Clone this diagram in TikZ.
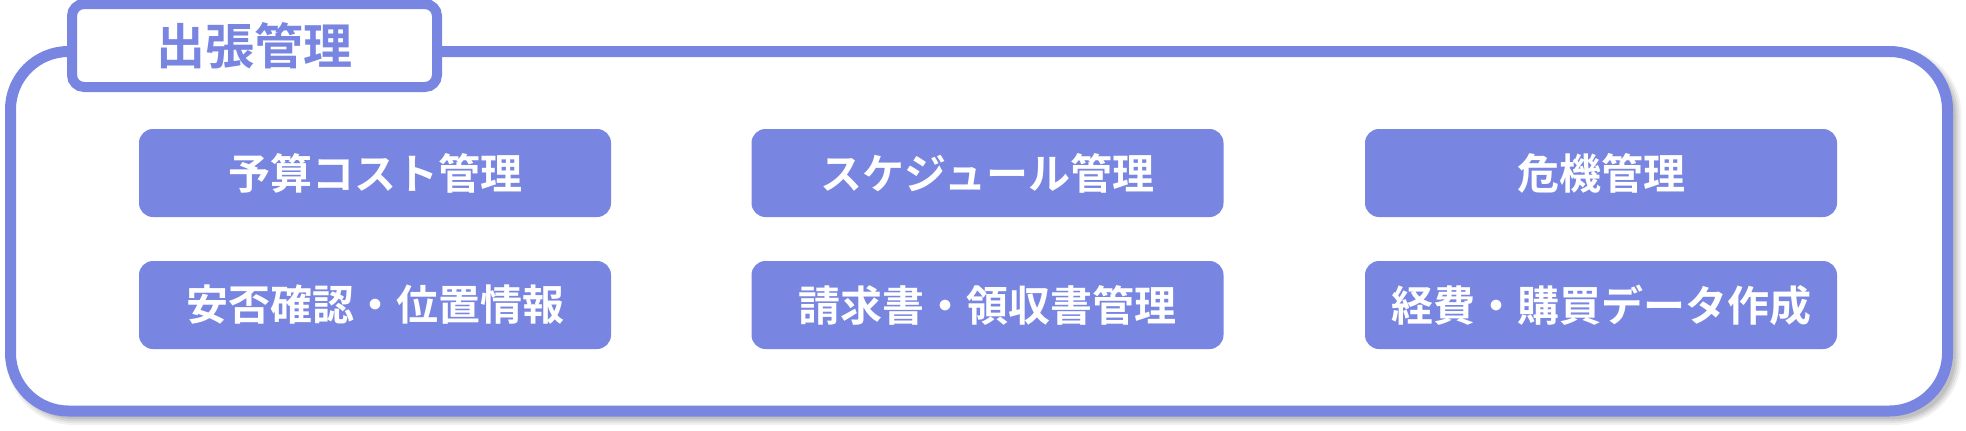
\documentclass[tikz,border=0pt]{standalone}
\usepackage{fontspec}
\newfontfamily\cjk{Noto Sans CJK JP}[BoldFont={Noto Sans CJK JP Bold}]
\definecolor{main}{RGB}{120,134,226}
\begin{document}
\begin{tikzpicture}[x=1pt,y=-1pt,
  framebox/.style={draw=main, fill=white, line width=11pt, rounded corners=58pt,
    minimum width=1937pt, minimum height=359.5pt, inner sep=0pt},
  titlebox/.style={draw=main, fill=white, line width=10pt, rounded corners=12pt,
    minimum width=365pt, minimum height=83pt, inner sep=0pt, text=main,
    font=\cjk\bfseries\fontsize{49}{58}\selectfont},
  itembox/.style={fill=main, rounded corners=14pt, minimum width=472pt,
    minimum height=88pt, inner sep=0pt, text=white,
    font=\cjk\bfseries\fontsize{42}{50}\selectfont},
  shadowline/.style={black, rounded corners=58pt}]
\fill[white] (0,0) rectangle (1966,431);
\useasboundingbox (0,0) rectangle (1966,431);
% soft shadow of the frame
\foreach \w/\o in {18/0.05,14/0.06,10/0.07,6/0.08}
  \draw[shadowline, line width=\w pt, opacity=\o] (15.5,56.5) rectangle (1952.5,416);
\node[framebox] (frame) at (979,231.25) {};
\node[titlebox] (title) at (254.5,45.5) {出張管理};
\node[itembox] (b11) at (375,173) {予算コスト管理};
\node[itembox] (b12) at (987.5,173) {スケジュール管理};
\node[itembox] (b13) at (1601,173) {危機管理};
\node[itembox] (b21) at (375,305) {安否確認・位置情報};
\node[itembox] (b22) at (987.5,305) {請求書・領収書管理};
\node[itembox] (b23) at (1601,305) {経費・購買データ作成};
\end{tikzpicture}
\end{document}
